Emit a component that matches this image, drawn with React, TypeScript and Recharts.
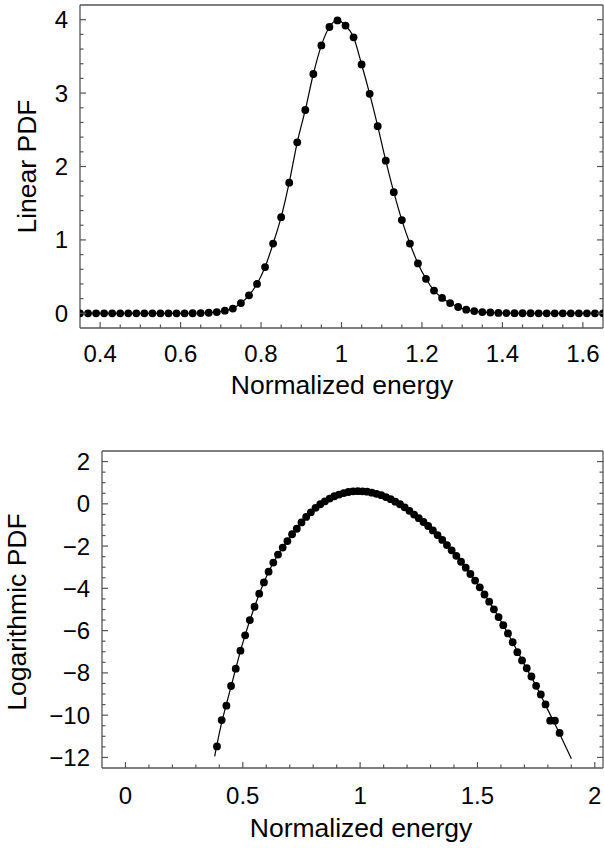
import React from "react";
import { ComposedChart, Scatter, Line, XAxis, YAxis } from "recharts";

// linear PDF: sampled points
const linX = [
  0.35, 0.37, 0.39, 0.41, 0.43, 0.45, 0.47, 0.49, 0.51, 0.53, 0.55, 0.57, 0.59, 0.61, 0.63, 0.65,
  0.67, 0.69, 0.71, 0.73, 0.75, 0.77, 0.79, 0.81, 0.83, 0.85, 0.87, 0.89, 0.91, 0.93, 0.95, 0.97,
  0.99, 1.01, 1.03, 1.05, 1.07, 1.09, 1.11, 1.13, 1.15, 1.17, 1.19, 1.21, 1.23, 1.25, 1.27, 1.29,
  1.31, 1.33, 1.35, 1.37, 1.39, 1.41, 1.43, 1.45, 1.47, 1.49, 1.51, 1.53, 1.55, 1.57, 1.59, 1.61,
  1.63, 1.65,
];
const linY = [
  0, 0, 0, 0, 0, 0, 0, 0, 0, 0, 0, 0, 0, 0, 0.001, 0.003,
  0.008, 0.017, 0.036, 0.065, 0.14, 0.245, 0.4, 0.63, 0.95, 1.31, 1.78, 2.33, 2.77, 3.26, 3.65, 3.9,
  3.99, 3.92, 3.76, 3.39, 2.99, 2.55, 2.08, 1.65, 1.27, 0.95, 0.68, 0.47, 0.31, 0.21, 0.14, 0.086,
  0.05, 0.03, 0.017, 0.011, 0.006, 0.003, 0.002, 0.001, 0.001, 0, 0, 0, 0, 0, 0, 0,
  0, 0,
];

// logarithmic PDF: sampled points
const logX = [
  0.39, 0.41, 0.43, 0.45, 0.47, 0.49, 0.51, 0.53, 0.55, 0.57, 0.59, 0.61, 0.63, 0.65, 0.67, 0.69,
  0.71, 0.73, 0.75, 0.77, 0.79, 0.81, 0.83, 0.85, 0.87, 0.89, 0.91, 0.93, 0.95, 0.97, 0.99, 1.01,
  1.03, 1.05, 1.07, 1.09, 1.11, 1.13, 1.15, 1.17, 1.19, 1.21, 1.23, 1.25, 1.27, 1.29, 1.31, 1.33,
  1.35, 1.37, 1.39, 1.41, 1.43, 1.45, 1.47, 1.49, 1.51, 1.53, 1.55, 1.57, 1.59, 1.61, 1.63, 1.65,
  1.67, 1.69, 1.71, 1.73, 1.75, 1.77, 1.79, 1.81, 1.83, 1.85,
];
const logY = [
  -11.48, -10.23, -9.55, -8.62, -7.8, -6.95, -6.22, -5.5, -4.87, -4.25, -3.72, -3.21, -2.78, -2.4, -2.07, -1.76,
  -1.44, -1.18, -0.88, -0.62, -0.4, -0.19, -0.02, 0.12, 0.25, 0.36, 0.44, 0.51, 0.56, 0.59, 0.6, 0.59,
  0.575, 0.53, 0.475, 0.41, 0.32, 0.22, 0.1, -0.02, -0.17, -0.33, -0.51, -0.68, -0.86, -1.05, -1.26, -1.48,
  -1.71, -1.95, -2.2, -2.46, -2.74, -3.02, -3.32, -3.63, -3.95, -4.29, -4.63, -4.99, -5.36, -5.74, -6.13, -6.55,
  -7.02, -7.41, -7.78, -8.17, -8.61, -9.02, -9.49, -10.26, -10.26, -10.84,
];

// fitted curve of the log plot
const fitX = [
  0.38, 0.4, 0.45, 0.5, 0.55, 0.6, 0.65, 0.7, 0.75, 0.8, 0.85, 0.9, 0.95, 1.0, 1.05, 1.1,
  1.15, 1.2, 1.25, 1.3, 1.35, 1.4, 1.45, 1.5, 1.55, 1.6, 1.65, 1.7, 1.75, 1.8, 1.85, 1.9,
];
const fitY = [
  -11.95, -10.85, -8.65, -6.58, -4.87, -3.46, -2.4, -1.6, -0.88, -0.29, 0.12, 0.4, 0.56, 0.6, 0.53, 0.365,
  0.1, -0.25, -0.68, -1.155, -1.71, -2.33, -3.02, -3.79, -4.63, -5.55, -6.55, -7.6, -8.62, -9.75, -10.88, -12.06,
];

const linXTicks = [
  0.4, 0.45, 0.5, 0.55, 0.6, 0.65, 0.7, 0.75, 0.8, 0.85, 0.9, 0.95, 1, 1.05, 1.1, 1.15, 1.2, 1.25,
  1.3, 1.35, 1.4, 1.45, 1.5, 1.55, 1.6,
];
const linXMajor = [0.4, 0.6, 0.8, 1, 1.2, 1.4, 1.6];
const linYTicks = [0, 0.2, 0.4, 0.6, 0.8, 1, 1.2, 1.4, 1.6, 1.8, 2, 2.2, 2.4, 2.6, 2.8, 3, 3.2, 3.4, 3.6, 3.8, 4];
const linYMajor = [0, 1, 2, 3, 4];
const logXTicks = [0, 0.1, 0.2, 0.3, 0.4, 0.5, 0.6, 0.7, 0.8, 0.9, 1, 1.1, 1.2, 1.3, 1.4, 1.5, 1.6, 1.7, 1.8, 1.9, 2];
const logXMajor = [0, 0.5, 1, 1.5, 2];
const logYTicks = [
  -12, -11.5, -11, -10.5, -10, -9.5, -9, -8.5, -8, -7.5, -7, -6.5, -6, -5.5, -5, -4.5, -4, -3.5,
  -3, -2.5, -2, -1.5, -1, -0.5, 0, 0.5, 1, 1.5, 2,
];
const logYMajor = [-12, -10, -8, -6, -4, -2, 0, 2];

const linPts = linX.map((x, i) => ({ x, y: linY[i] }));
const logPts = logX.map((x, i) => ({ x, y: logY[i] }));
const fitPts = fitX.map((x, i) => ({ x, y: fitY[i] }));

const FRAME = "#555";
const FONT = "'Liberation Sans', Arial, Helvetica, sans-serif";
const TICK_FS = 24;
const TITLE_FS = 26.5;

const isMajor = (list: number[], v: number) => list.some((m) => Math.abs(m - v) < 1e-6);
const fmt = (v: number) => (v < 0 ? "\u2212" + Math.abs(v) : String(v));

type Side = "bottom" | "top" | "left" | "right";

// ticks are drawn inward from the frame, Mathematica style
function frameTick(side: Side, majors: number[], gap = 0) {
  return function Tick(props: any) {
    const { x, y, payload } = props;
    const v = payload.value;
    const major = isMajor(majors, v);
    const len = major ? 6 : 3.5;
    const showText = gap > 0 && major;
    let line;
    let text = null;
    if (side === "bottom") {
      line = <line x1={x} y1={y} x2={x} y2={y - len} />;
      if (showText)
        text = (
          <text x={x} y={y + gap} textAnchor="middle" dominantBaseline="central">
            {fmt(v)}
          </text>
        );
    } else if (side === "top") {
      line = <line x1={x} y1={y} x2={x} y2={y + len} />;
    } else if (side === "left") {
      line = <line x1={x} y1={y} x2={x + len} y2={y} />;
      if (showText)
        text = (
          <text x={x - gap} y={y} textAnchor="end" dominantBaseline="central">
            {fmt(v)}
          </text>
        );
    } else {
      line = <line x1={x} y1={y} x2={x - len} y2={y} />;
    }
    return (
      <g>
        <g stroke={FRAME} strokeWidth={1.2}>{line}</g>
        {text && (
          <g fill="#000" fontSize={TICK_FS} fontFamily={FONT}>
            {text}
          </g>
        )}
      </g>
    );
  };
}

const xTitle = (text: string, x: number, y: number) => () => (
  <text x={x} y={y} textAnchor="middle" dominantBaseline="central" fontSize={TITLE_FS} fontFamily={FONT} fill="#000">
    {text}
  </text>
);

const yTitle = (text: string, x: number, y: number) => () => (
  <text
    x={x}
    y={y}
    transform={`rotate(-90 ${x} ${y})`}
    textAnchor="middle"
    dominantBaseline="central"
    fontSize={TITLE_FS}
    fontFamily={FONT}
    fill="#000"
  >
    {text}
  </text>
);

const dot = (p: any) => <circle cx={p.cx} cy={p.cy} r={3.9} fill="#000" />;

const axisLine = { stroke: FRAME, strokeWidth: 1.3 };

export default function App() {
  const linXDomain: [number, number] = [0.35, 1.65];
  const linYDomain: [number, number] = [-0.2, 4.2];
  const logXDomain: [number, number] = [-0.1, 2.035];
  const logYDomain: [number, number] = [-12.5, 2.5];

  return (
    <div style={{ width: 604, height: 848, background: "#fff" }}>
      <style>{"body{margin:0}"}</style>
      <ComposedChart width={604} height={420} margin={{ top: 0, right: 0, bottom: 0, left: 0 }}>
        <XAxis
          dataKey="x"
          type="number"
          domain={linXDomain}
          ticks={linXTicks}
          interval={0}
          allowDataOverflow
          height={92}
          tickSize={0}
          tickMargin={0}
          tickLine={false}
          axisLine={axisLine}
          tick={frameTick("bottom", linXMajor, 25)}
          label={xTitle("Normalized energy", 342, 385)}
        />
        <XAxis
          xAxisId="top"
          orientation="top"
          type="number"
          domain={linXDomain}
          ticks={linXTicks}
          interval={0}
          allowDataOverflow
          height={5}
          tickSize={0}
          tickMargin={0}
          tickLine={false}
          axisLine={axisLine}
          tick={frameTick("top", linXMajor)}
        />
        <YAxis
          type="number"
          domain={linYDomain}
          ticks={linYTicks}
          interval={0}
          allowDataOverflow
          width={80}
          tickSize={0}
          tickMargin={0}
          tickLine={false}
          axisLine={axisLine}
          tick={frameTick("left", linYMajor, 12)}
          label={yTitle("Linear PDF", 27, 166.5)}
        />
        <YAxis
          yAxisId="right"
          orientation="right"
          type="number"
          domain={linYDomain}
          ticks={linYTicks}
          interval={0}
          allowDataOverflow
          width={1}
          tickSize={0}
          tickMargin={0}
          tickLine={false}
          axisLine={axisLine}
          tick={frameTick("right", linYMajor)}
        />
        <Line
          data={linPts}
          dataKey="y"
          type="monotone"
          stroke="#000"
          strokeWidth={1.2}
          dot={false}
          activeDot={false}
          isAnimationActive={false}
        />
        <Scatter data={linPts} dataKey="y" shape={dot} isAnimationActive={false} />
      </ComposedChart>

      <ComposedChart width={604} height={428} margin={{ top: 0, right: 0, bottom: 0, left: 0 }}>
        <XAxis
          dataKey="x"
          type="number"
          domain={logXDomain}
          ticks={logXTicks}
          interval={0}
          allowDataOverflow
          height={80}
          tickSize={0}
          tickMargin={0}
          tickLine={false}
          axisLine={axisLine}
          tick={frameTick("bottom", logXMajor, 27)}
          label={xTitle("Normalized energy", 361, 408)}
        />
        <XAxis
          xAxisId="top"
          orientation="top"
          type="number"
          domain={logXDomain}
          ticks={logXTicks}
          interval={0}
          allowDataOverflow
          height={31}
          tickSize={0}
          tickMargin={0}
          tickLine={false}
          axisLine={axisLine}
          tick={frameTick("top", logXMajor)}
        />
        <YAxis
          type="number"
          domain={logYDomain}
          ticks={logYTicks}
          interval={0}
          allowDataOverflow
          width={102}
          tickSize={0}
          tickMargin={0}
          tickLine={false}
          axisLine={axisLine}
          tick={frameTick("left", logYMajor, 12)}
          label={yTitle("Logarithmic PDF", 17, 192)}
        />
        <YAxis
          yAxisId="right"
          orientation="right"
          type="number"
          domain={logYDomain}
          ticks={logYTicks}
          interval={0}
          allowDataOverflow
          width={1}
          tickSize={0}
          tickMargin={0}
          tickLine={false}
          axisLine={axisLine}
          tick={frameTick("right", logYMajor)}
        />
        <Line
          data={fitPts}
          dataKey="y"
          type="monotone"
          stroke="#000"
          strokeWidth={1.2}
          dot={false}
          activeDot={false}
          isAnimationActive={false}
        />
        <Scatter data={logPts} dataKey="y" shape={dot} isAnimationActive={false} />
      </ComposedChart>
    </div>
  );
}
